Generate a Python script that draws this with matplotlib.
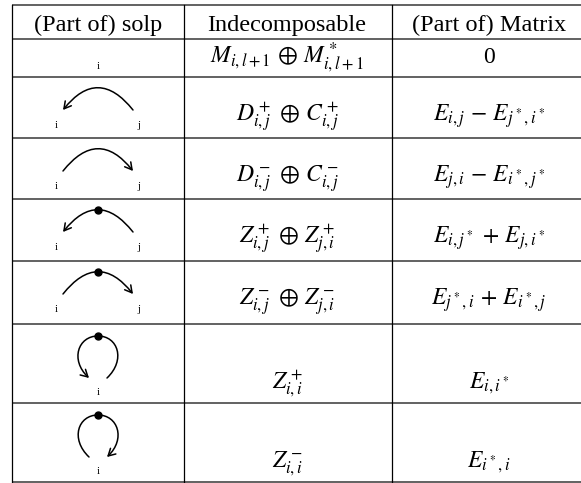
# -*- coding: utf-8 -*-
"""
Draw the solp / indecomposable / matrix table with small arc diagrams.
"""
import matplotlib.pyplot as plt #needed for plotting
from matplotlib.path import Path #needed for the curved arrows
from matplotlib.patches import FancyArrowPatch

plt.rcParams['font.family'] = ['Liberation Serif', 'DejaVu Serif']
plt.rcParams['mathtext.fontset'] = 'stix'

#table contents
headers = ["(Part of) solp", "Indecomposable", "(Part of) Matrix"]
diagrams = ["point", "arc_to_i", "arc_to_j", "dot_arc_to_i", "dot_arc_to_j",
            "loop_left", "loop_right"]
indecomposables = [r"$M_{i,l+1}\,\oplus\,M^*_{i,l+1}$",
                   r"$D^+_{i,j}\,\oplus\,C^+_{i,j}$",
                   r"$D^-_{i,j}\,\oplus\,C^-_{i,j}$",
                   r"$Z^+_{i,j}\,\oplus\,Z^+_{j,i}$",
                   r"$Z^-_{i,j}\,\oplus\,Z^-_{j,i}$",
                   r"$Z^+_{i,i}$",
                   r"$Z^-_{i,i}$"]
matrices = ["0",
            r"$E_{i,j}\,-\,E_{j^*,i^*}$",
            r"$E_{j,i}\,-\,E_{i^*,j^*}$",
            r"$E_{i,j^*}\,+\,E_{j,i^*}$",
            r"$E_{j^*,i}\,+\,E_{i^*,j}$",
            r"$E_{i,i^*}$",
            r"$E_{i^*,i}$"]

#layout in pixels (figure is 581 x 483)
W, H = 581, 483
row_edges = [5, 39, 77, 138, 199, 261, 324, 403, 482]
col_edges = [12, 184, 392]
col_centers = [98, 287, 489]

fig = plt.figure(figsize=(W / 100, H / 100), dpi=100)
ax = fig.add_axes([0, 0, 1, 1])
ax.set_xlim(0, W)
ax.set_ylim(H, 0)
ax.axis('off')

#-----------------------------------------------------------------------------#
def arrow(verts, codes):
    """draw a curve given by bezier points with an arrow at its end"""
    p = FancyArrowPatch(path=Path(verts, codes),
                        arrowstyle='->,head_length=0.5,head_width=0.28',
                        mutation_scale=10, lw=1.1, color='black')
    ax.add_patch(p)

#-----------------------------------------------------------------------------#
def draw_diagram(kind, top):
    """draw one little solp picture in the first column, row starting at top"""
    cx = col_centers[0]
    lab = dict(fontsize=8, ha='center', va='baseline')
    if kind == "point":
        ax.text(cx, top + 30, "i", **lab)
        return
    if kind.startswith("loop"):
        ax.text(cx, top + 71, "i", **lab)
        left = [(cx - 9, top + 54), (cx - 28, top + 36),
                (cx - 20, top + 12), (cx, top + 12)]
        right = [(cx, top + 12), (cx + 20, top + 12),
                 (cx + 28, top + 36), (cx + 9, top + 54)]
        c4 = [Path.CURVE4] * 3
        if kind == "loop_left":
            verts = right[::-1] + left[::-1][1:]
        else:
            verts = left + right[1:]
        arrow(verts, [Path.MOVETO] + c4 + c4)
        ax.plot(cx, top + 12, 'o', ms=5, color='black')
        return
    #arcs between i and j
    xi, xj = cx - 35, cx + 35
    ax.text(xi - 7, top + 51, "i", **lab)
    ax.text(xj + 6, top + 51, "j", **lab)
    ctrl = (cx, top - 11)
    if kind.endswith("to_i"):
        verts = [(xj, top + 33), ctrl, (xi, top + 33)]
    else:
        verts = [(xi, top + 33), ctrl, (xj, top + 33)]
    arrow(verts, [Path.MOVETO, Path.CURVE3, Path.CURVE3])
    if kind.startswith("dot"):
        ax.plot(cx, top + 11, 'o', ms=5, color='black')

#-------------------------------Main Method-----------------------------------#
#grid lines of the table
for y in row_edges:
    ax.plot([col_edges[0], W], [y, y], color='#555555', lw=1.3,
            solid_capstyle='butt')
for x in col_edges:
    ax.plot([x, x], [row_edges[0], row_edges[-1]], color='black', lw=0.9)

#header row
for x, h in zip(col_centers, headers):
    ax.text(x, 31, h, fontsize=17.5, ha='center', va='baseline')

#body rows
baseline_off = [24, 44, 44, 44, 44, 64, 64]
for r in range(len(diagrams)):
    top = row_edges[r + 1]
    draw_diagram(diagrams[r], top)
    yb = top + baseline_off[r]
    ax.text(col_centers[1], yb, indecomposables[r], fontsize=17,
            ha='center', va='baseline')
    ax.text(col_centers[2], yb, matrices[r], fontsize=17,
            ha='center', va='baseline')

fig.savefig("out.png", dpi=100)
